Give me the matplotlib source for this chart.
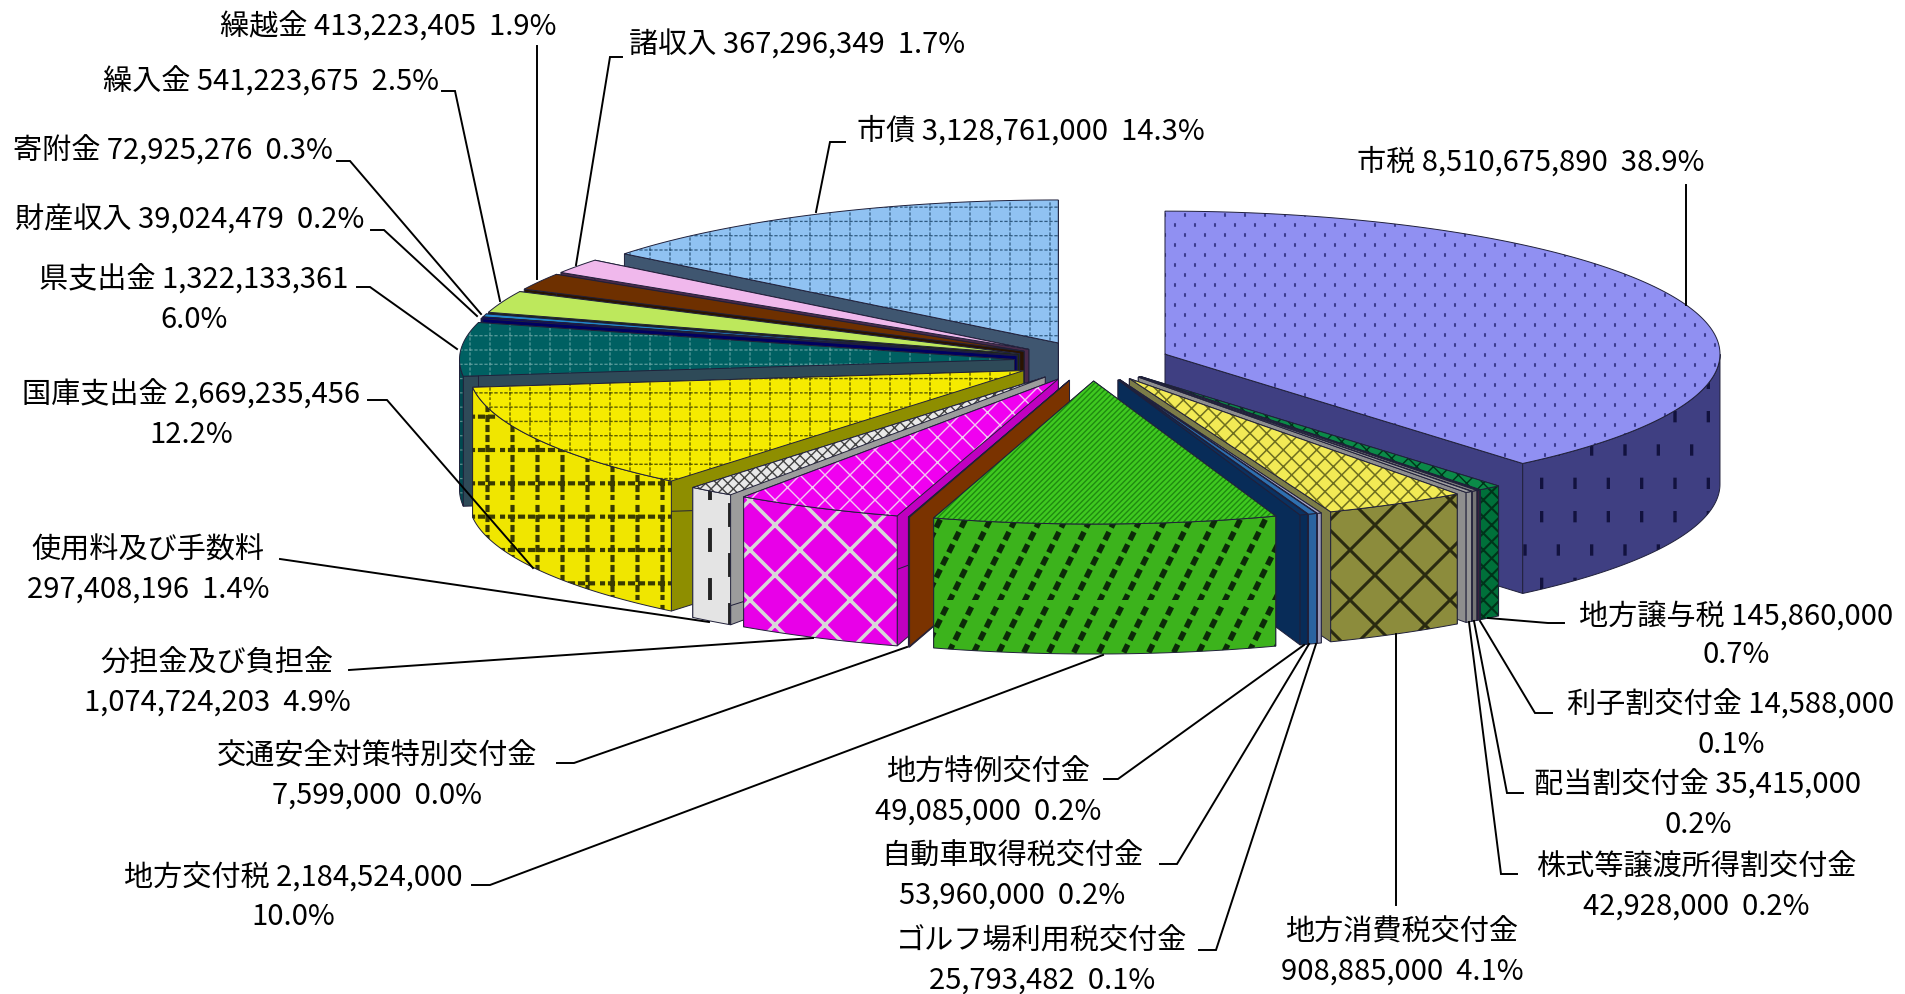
import warnings
import numpy as np
import matplotlib
matplotlib.use("Agg")
import matplotlib.pyplot as plt
import matplotlib.hatch as mhatch
from matplotlib.path import Path
from matplotlib.patches import Polygon

warnings.filterwarnings('ignore')
plt.rcParams['font.family'] = ['Noto Sans CJK JP', 'DejaVu Sans']

# Revenue items, clockwise from twelve o'clock
names = ['市税', '地方譲与税', '利子割交付金', '配当割交付金', '株式等譲渡所得割交付金',
         '地方消費税交付金', 'ゴルフ場利用税交付金', '自動車取得税交付金', '地方特例交付金',
         '地方交付税', '交通安全対策特別交付金', '分担金及び負担金', '使用料及び手数料',
         '国庫支出金', '県支出金', '財産収入', '寄附金', '繰入金', '繰越金', '諸収入', '市債']
values = [8510675890, 145860000, 14588000, 35415000, 42928000,
          908885000, 25793482, 53960000, 49085000,
          2184524000, 7599000, 1074724203, 297408196,
          2669235456, 1322133361, 39024479, 72925276, 541223675, 413223405, 367296349, 3128761000]

# Line-break style of each label: 0 one line, 1 break before the percentage, 2 break after the name
breaks = [0, 1, 1, 1, 2, 2, 2, 2, 2, 1, 2, 2, 2, 1, 1, 0, 0, 0, 0, 0, 0]

# Label centres and leader polylines, in pixels
label_xy = [(1531, 162), (1736, 636), (1731, 725), (1698, 805), (1696, 887),
            (1402, 952), (1042, 961), (1012, 876), (988, 792),
            (293, 898), (377, 776), (217, 683), (148, 570),
            (191, 415), (194, 300), (190, 221), (173, 151), (271, 82), (388, 27), (797, 46), (1031, 131)]
leaders = [[(1686, 186), (1686, 306)],
           [(1564, 624), (1548, 624), (1488, 619)],
           [(1552, 714), (1535, 714), (1480, 622)],
           [(1523, 794), (1507, 794), (1474, 622)],
           [(1517, 875), (1501, 875), (1469, 623)],
           [(1396, 906), (1396, 635)],
           [(1199, 951), (1216, 951), (1316, 645)],
           [(1160, 865), (1177, 865), (1309, 645)],
           [(1104, 780), (1118, 780), (1304, 646)],
           [(472, 886), (490, 886), (1103, 656)],
           [(557, 764), (574, 764), (907, 648)],
           [(349, 671), (813, 639)],
           [(280, 560), (709, 623)],
           [(368, 401), (387, 401), (533, 569)],
           [(357, 288), (370, 288), (457, 350)],
           [(371, 231), (384, 231), (477, 317)],
           [(337, 162), (350, 162), (481, 315)],
           [(442, 92), (455, 92), (500, 302)],
           [(537, 47), (537, 280)],
           [(622, 58), (610, 58), (576, 266)],
           [(845, 143), (830, 143), (816, 213)]]

# Face colours: top, outer rim, cut side
top_colors = ['#9090F2', '#0B8A48', '#5A2A4C', '#808080', '#A2A2A2', '#F2EA55', '#A8A8C8',
              '#2F70B0', '#0A3262', '#3FC920', '#7A3300', '#F000F0', '#E9E9E9', '#F5EB00',
              '#006062', '#000080', '#2288CC', '#BDE85C', '#6E3000', '#F0B8EC', '#90C2F2']
rim_colors = ['#3F3F82', '#00703A', '#4A2040', '#757575', '#969696', '#8C8C3C', '#9A9AB8',
              '#2A64A0', '#082C58', '#3CB31C', '#7A3300', '#E800E8', '#E4E4E4', '#F0E600',
              '#004A50', '#000070', '#1C70B0', '#A8D050', '#5C2800', '#D8A0D4', '#3F5670']
cut_colors = ['#3F3F82', '#00703A', '#3E1A36', '#6E6E6E', '#8E8E8E', '#7C7C48', '#9A9AB8',
              '#2A64A0', '#082C58', '#2E8F16', '#7A3300', '#C000C0', '#9C9C9C', '#8E8E00',
              '#2E4A58', '#000060', '#000060', '#1E2A10', '#2A1400', '#4A2A4A', '#3F5670']
# Hatch: (pattern, colour, line width)
top_hatch = [('a', '#3C3C90', 1.5), ('xx', '#00331A', 1.0), None, None, None,
             ('xx', '#6E6E20', 1.1), None, None, None, ('//////', '#1F8A10', 1.0), None,
             ('j', '#F4C8F4', 1.0), ('xxx', '#444444', 1.0), ('c', '#5A5A00', 1.0),
             ('c', '#5C9C9C', 0.9), None, None, None, None, None, ('c', '#2F5A80', 0.9)]
rim_hatch = [('b', '#12123E', 2.4), ('xx', '#00331A', 1.5), None, None, None,
             ('h', '#2A2A10', 2.2), None, None, None, ('f', '#0C2A08', 4.0), None,
             ('i', '#D8D8D8', 2.6), ('k', '#222222', 2.8), ('d', '#3A3A00', 3.0),
             ('c', '#5C8C8C', 0.9), None, None, None, None, None, None]


def segs_grid(nv, nh, dash, gap):
    """Dashed vertical and horizontal lines across one hatch tile."""
    out = []
    step = dash + gap
    for k in range(nv):
        x = (k + 0.5) / nv
        for s in np.arange(0, 1, step):
            out.append(((x, s), (x, min(s + dash, 1))))
    for k in range(nh):
        y = (k + 0.5) / nh
        for s in np.arange(0, 1, step):
            out.append(((s, y), (min(s + dash, 1), y)))
    return out


def segs_dots(ncol, nrow, length):
    """Short vertical ticks on a staggered lattice."""
    out = []
    for r in range(nrow):
        y = (r + 0.5) / nrow
        for c in range(ncol):
            x = (c + 0.5 * (r % 2) + 0.25) / ncol
            out.append(((x, y - length / 2), (x, y + length / 2)))
    return out


def segs_lattice(n):
    """Diagonal lattice with n diamonds per tile width."""
    out = []
    for k in range(-n, n + 1):
        out.append(((k / n, 0), (k / n + 1, 1)))
        out.append(((k / n, 1), (k / n + 1, 0)))
    return out


def segs_slant(n, dash, gap):
    """Dashed steep diagonals with a rise of two tiles per tile of run."""
    out = []
    for k in range(-n, n + 1):
        for s in np.arange(0, 1, dash + gap):
            e = min(s + dash, 1)
            out.append(((k / n + s / 2, s), (k / n + e / 2, e)))
    return out


def segs_dashes(ncol, length, gap):
    """Separate vertical dashes, offset from column to column."""
    out = []
    period = length + gap
    for c in range(ncol):
        x = (c + 0.5) / ncol
        for s in np.arange(0, 1, period):
            y = (s + (c % 2) * period / 2) % 1
            out.append(((x, y), (x, min(y + length, 1))))
    return out


def register(char, segs):
    """Add a hatch character drawn from line segments in the unit tile."""
    segs = np.asarray(segs, float)

    class Pattern(mhatch.HatchPatternBase):
        def __init__(self, hatch, density):
            self.on = char in hatch
            self.num_vertices = len(segs) * 2 if self.on else 0

        def set_vertices_and_codes(self, vertices, codes):
            if self.on:
                vertices[:] = segs.reshape(-1, 2)
                codes[0::2] = Path.MOVETO
                codes[1::2] = Path.LINETO

    mhatch._hatch_types.append(Pattern)


register('a', segs_dots(5, 10, 0.015))
register('b', segs_dots(3, 3, 0.08))
register('c', segs_grid(5, 7, 0.02, 0.03))
register('d', segs_grid(4, 3, 0.03, 0.07))
register('f', segs_slant(4, 0.03, 0.095))
register('h', segs_lattice(2))
register('i', segs_lattice(2))
register('j', segs_lattice(4))
register('k', segs_dashes(5, 0.2, 0.3))

# Pie geometry in pixels
CX, CY = 1092, 362
RX, RY = 555, 143
DEPTH = 130
EXPLODE = 0.14


def rim(theta):
    """Offset of a rim point at a clockwise angle (degrees) from twelve o'clock."""
    t = np.radians(theta)
    return np.column_stack([RX * np.sin(t), -RY * np.cos(t)])


def face(ax, pts, color, hatch, zorder):
    if hatch:
        pattern, hatch_color, width = hatch
        plt.rcParams['hatch.linewidth'] = width
        patch = Polygon(pts, closed=True, facecolor=color, edgecolor=hatch_color,
                        hatch=pattern, linewidth=0, zorder=zorder)
    else:
        patch = Polygon(pts, closed=True, facecolor=color, edgecolor=color,
                        linewidth=0, zorder=zorder)
    ax.add_patch(patch)
    ax.add_patch(Polygon(pts, closed=True, facecolor='none', edgecolor='#20203A',
                         linewidth=0.7, zorder=zorder))


fig = plt.figure(figsize=(19.06, 9.95), dpi=100)
ax = fig.add_axes([0, 0, 1, 1])
ax.set_xlim(0, 1906)
ax.set_ylim(995, 0)
ax.axis('off')

total = sum(values)
edges = np.concatenate([[0], np.cumsum(values)]) / total * 360
mids = (edges[:-1] + edges[1:]) / 2

# Back slices are painted first so that nearer ones cover them
order = np.argsort(-np.cos(np.radians(mids)))
z = 2
for i in order:
    a, b = edges[i], edges[i + 1]
    apex = np.array([CX, CY]) + EXPLODE * rim([mids[i]])[0]
    drop = np.array([0, DEPTH])
    arc = apex + rim(np.linspace(a, b, max(int(b - a) * 2, 2)))
    # Cut sides
    for end in (arc[0], arc[-1]):
        face(ax, [apex, end, end + drop, apex + drop], cut_colors[i], None, z)
    # Outer rim, only where it faces the viewer
    lo, hi = max(a, 90), min(b, 270)
    if hi > lo:
        front = apex + rim(np.linspace(lo, hi, max(int(hi - lo) * 2, 2)))
        face(ax, np.vstack([front, front[::-1] + drop]), rim_colors[i], rim_hatch[i], z + 1)
    # Top
    face(ax, np.vstack([apex, arc]), top_colors[i], top_hatch[i], z + 2)
    z += 3

for i, name in enumerate(names):
    value = f'{values[i]:,}'
    pct = f'{values[i] / total * 100:.1f}%'
    text = {0: f'{name} {value}  {pct}',
            1: f'{name} {value}\n{pct}',
            2: f'{name}\n{value}  {pct}'}[breaks[i]]
    ax.text(*label_xy[i], text, ha='center', va='center', fontsize=21, color='black',
            linespacing=1.38, zorder=200)
    xs, ys = zip(*leaders[i])
    ax.plot(xs, ys, color='black', lw=1.4, solid_joinstyle='miter', zorder=150)

fig.savefig('out.png', dpi=100)
